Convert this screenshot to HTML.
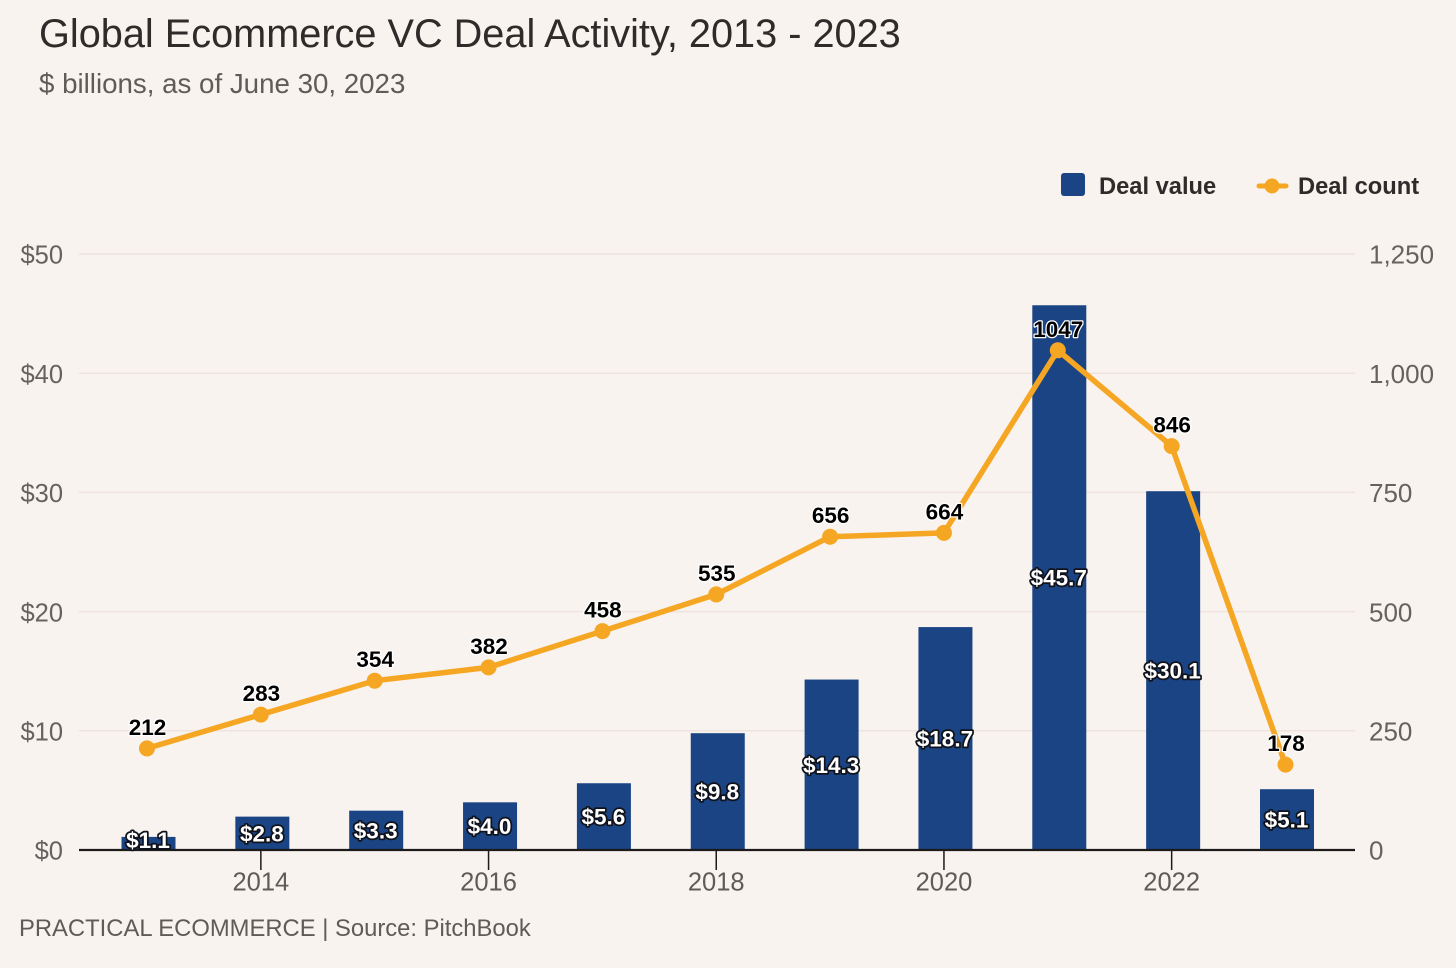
<!DOCTYPE html>
<html lang="en">
<head>
<meta charset="utf-8">
<title>Global Ecommerce VC Deal Activity, 2013 - 2023</title>
<style>
html,body{margin:0;padding:0;background:#f9f3ef;}
body{width:1456px;height:968px;overflow:hidden;position:relative;font-family:"Liberation Sans",Arial,sans-serif;}
svg{position:absolute;left:0;top:0;display:block;}
text{font-family:"Liberation Sans",Arial,sans-serif;}
</style>
</head>
<body>
<svg id="chart" width="1456" height="968" viewBox="0 0 1456 968" xmlns="http://www.w3.org/2000/svg">
  <text x="39" y="47" font-size="39.7" fill="#2e2b2a">Global Ecommerce VC Deal Activity, 2013 - 2023</text>
  <text x="39" y="93" font-size="27.7" fill="#5f5b59">$ billions, as of June 30, 2023</text>
  <g>
    <g>
      <rect x="1061" y="173" width="24" height="23" rx="3" fill="#1a4483"></rect>
      <text x="1099" y="194" font-size="23.7" font-weight="700" fill="#2e2b2a">Deal value</text>
    </g>
    <g>
      <line x1="1259" y1="186" x2="1286" y2="186" stroke="#f5a623" stroke-width="5" stroke-linecap="round"></line>
      <circle cx="1272" cy="186" r="7.5" fill="#f5a623"></circle>
      <text x="1298" y="194" font-size="23.7" font-weight="700" fill="#2e2b2a">Deal count</text>
    </g>
  </g>
  <g id="grid"></g>
  <g id="yLeft"></g>
  <g id="yRight"></g>
  <g id="bars"></g>
  <g id="xAxis"></g>
  <g id="line"></g>
  <g id="labels"></g>
  <text x="19" y="936" font-size="23.8" fill="#5f5b59">PRACTICAL ECOMMERCE | Source: PitchBook</text>
</svg>
<script>
const years = [2013, 2014, 2015, 2016, 2017, 2018, 2019, 2020, 2021, 2022, 2023];
const dealValue = [1.1, 2.8, 3.3, 4.0, 5.6, 9.8, 14.3, 18.7, 45.7, 30.1, 5.1];
const dealCount = [212, 283, 354, 382, 458, 535, 656, 664, 1047, 846, 178];
const leftTicks = [0, 10, 20, 30, 40, 50];
const rightTicks = [0, 250, 500, 750, 1000, 1250];
const xTicks = [2014, 2016, 2018, 2020, 2022];

const NS = 'http://www.w3.org/2000/svg';
const x = function (year) { return 147 + (year - 2013) * 113.85; };
const yValue = function (v) { return 850 - v * 11.92; };
const yCount = function (c) { return 849.5 - c * 0.4768; };
function make(parent, tag, attrs, content) {
  const el = document.createElementNS(NS, tag);
  Object.keys(attrs).forEach(function (k) { el.setAttribute(k, attrs[k]); });
  if (content !== undefined) el.textContent = content;
  document.getElementById(parent).appendChild(el);
  return el;
}

leftTicks.forEach(function (t) {
  if (t !== 0) {
    const g = make('grid', 'line', { x1: 79, x2: 1355, y1: yValue(t), y2: yValue(t), stroke: '#eee3de', 'stroke-width': 1.5 });
    
    
  }
  const l = make('yLeft', 'text', { x: 63, y: yValue(t) + 9.7, 'font-size': 25.5, fill: '#666260', 'text-anchor': 'end' }, '$' + t);
  
  
});

rightTicks.forEach(function (t) {
  const label = t >= 1000 ? String(t).replace(/(\d)(\d{3})$/, '$1,$2') : String(t);
  const r = make('yRight', 'text', { x: 1369, y: 850 - t * 0.4768 + 9.7, 'font-size': 26, fill: '#666260' }, label);
  
  
});

years.forEach(function (yr, i) {
  const top = yValue(dealValue[i]);
  const b = make('bars', 'rect', { x: x(yr) + 1.5 - 27, y: top, width: 54, height: 850 - top, fill: '#1a4483' });
  
  
});

const axisLine = make('xAxis', 'line', { x1: 79, x2: 1355, y1: 850, y2: 850, stroke: '#1c1a1a', 'stroke-width': 2.2 });



xTicks.forEach(function (yr) {
  const tick = make('xAxis', 'line', { x1: x(yr), x2: x(yr), y1: 850, y2: 870, stroke: '#1c1a1a', 'stroke-width': 1.5 });
  
  
  const lab = make('xAxis', 'text', { x: x(yr), y: 890.5, 'font-size': 25.5, fill: '#5f5b59', 'text-anchor': 'middle' }, yr);
  
  
});

const pts = years.map(function (yr, i) { return x(yr) + ',' + yCount(dealCount[i]); }).join(' ');
const path = make('line', 'polyline', { points: pts, fill: 'none', stroke: '#f5a623', 'stroke-width': 5.5, 'stroke-linejoin': 'round' });



years.forEach(function (yr, i) {
  const c = make('line', 'circle', { cx: x(yr), cy: yCount(dealCount[i]), r: 8, fill: '#f5a623' });
  
  
});

years.forEach(function (yr, i) {
  const v = make('labels', 'text', {
    x: x(yr) + 1, y: Math.min((yValue(dealValue[i]) + 850) / 2 + 8, 848),
    'font-size': 22.5, 'font-weight': 700, fill: '#ffffff', stroke: '#10131c', 'stroke-width': 3.5,
    'paint-order': 'stroke', 'stroke-linejoin': 'round', 'text-anchor': 'middle'
  }, '$' + dealValue[i].toFixed(1));
  
  

  const n = make('labels', 'text', {
    x: x(yr) + 0.5, y: yCount(dealCount[i]) - 13.5,
    'font-size': 22.5, 'font-weight': 700, fill: '#000000', stroke: '#ffffff', 'stroke-width': 2.5,
    'paint-order': 'stroke', 'stroke-linejoin': 'round', 'text-anchor': 'middle'
  }, dealCount[i]);
  
  
});
</script>
</body>
</html>
